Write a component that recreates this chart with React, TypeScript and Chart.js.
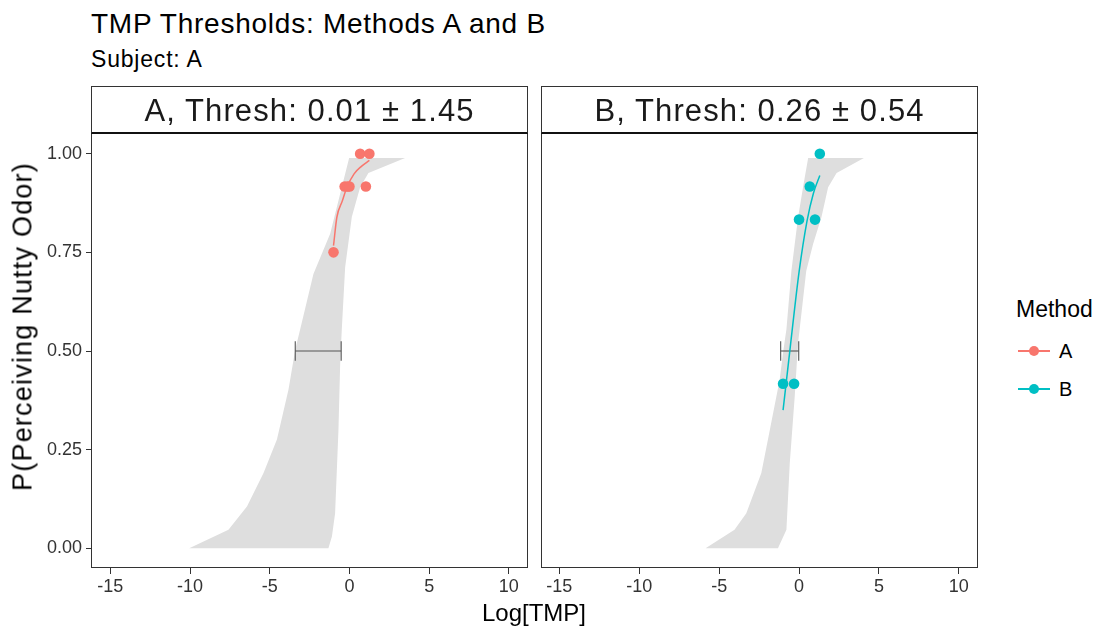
import React, { useEffect, useRef } from "react";
import { Chart, registerables } from "chart.js";

Chart.register(...registerables);

const FONT = "'Liberation Sans', Arial, Helvetica, sans-serif";

// ---- axes ----
const xTicks = [-15, -10, -5, 0, 5, 10];
const yTicks = [0, 0.25, 0.5, 0.75, 1];
const xMin = -16.15;
const xMax = 11.2;
const yMin = -0.05;
const yMax = 1.05;

const colorA = "#F8766D";
const colorB = "#00BFC4";

// ---- Method A ----
const aPointX = [0.67, 1.25, -0.3, -0.12, 0.0, 1.03, -1.0];
const aPointY = [1.0, 1.0, 0.917, 0.917, 0.917, 0.917, 0.75];
const aFitX = [-1.0, -0.79, -0.45, -0.16, 0.29, 0.75, 1.25];
const aFitY = [0.767, 0.839, 0.88, 0.915, 0.949, 0.968, 0.983];
const aErr = [-3.4, -0.52];
const aRibbonX = [-10.05, -7.59, -6.43, -5.39, -4.55, -3.82, -3.4, -3.09, -2.26, -1.21, -0.48, -0.02, 3.49, 1.19, 0.67, 0.15, -0.27, -0.48, -0.58, -0.69, -0.9, -1.1, -1.32];
const aRibbonY = [0.0, 0.047, 0.106, 0.191, 0.276, 0.403, 0.504, 0.555, 0.695, 0.797, 0.915, 0.989, 0.989, 0.951, 0.915, 0.84, 0.712, 0.555, 0.47, 0.3, 0.089, 0.03, 0.0];

// ---- Method B ----
const bPointX = [1.3, 0.67, 0.0, 1.0, -1.0, -0.31];
const bPointY = [1.0, 0.917, 0.833, 0.833, 0.417, 0.417];
const bFitX = [-1.0, -0.55, 0.0, 0.5, 0.9, 1.3];
const bFitY = [0.35, 0.51, 0.7, 0.83, 0.9, 0.945];
const bErr = [-1.15, -0.02];
const bRibbonX = [-5.85, -4.04, -3.3, -2.36, -1.9, -1.21, -1.0, -0.79, -0.48, -0.27, -0.06, 0.25, 0.57, 4.06, 2.35, 1.82, 1.4, 0.88, 0.45, -0.06, -0.27, -0.58, -0.79, -1.32];
const bRibbonY = [0.0, 0.047, 0.089, 0.191, 0.285, 0.428, 0.496, 0.555, 0.703, 0.771, 0.839, 0.915, 0.989, 0.989, 0.951, 0.915, 0.839, 0.771, 0.703, 0.52, 0.385, 0.216, 0.047, 0.0];

const errY = 0.5;
const capHalf = 0.025;

const zip = (xs: number[], ys: number[]) => xs.map((x, i) => ({ x, y: ys[i] }));

function buildDatasets(px: number[], py: number[], fx: number[], fy: number[], err: number[], rx: number[], ry: number[], color: string) {
  const errColor = "#555555";
  return [
    {
      data: zip(px, py),
      showLine: false,
      pointRadius: 5.3,
      pointBorderWidth: 0,
      pointBackgroundColor: color,
      borderColor: color,
    },
    {
      data: zip(fx, fy),
      showLine: true,
      borderColor: color,
      borderWidth: 1.5,
      pointRadius: 0,
      cubicInterpolationMode: "monotone" as const,
      fill: false,
    },
    {
      data: [{ x: err[0], y: errY }, { x: err[1], y: errY }],
      showLine: true,
      borderColor: errColor,
      borderWidth: 1.1,
      pointRadius: 0,
      fill: false,
    },
    {
      data: [{ x: err[0], y: errY - capHalf }, { x: err[0], y: errY + capHalf }],
      showLine: true,
      borderColor: errColor,
      borderWidth: 1.1,
      pointRadius: 0,
      fill: false,
    },
    {
      data: [{ x: err[1], y: errY - capHalf }, { x: err[1], y: errY + capHalf }],
      showLine: true,
      borderColor: errColor,
      borderWidth: 1.1,
      pointRadius: 0,
      fill: false,
    },
    {
      data: zip(rx, ry),
      showLine: true,
      borderWidth: 0,
      borderColor: "rgba(0,0,0,0)",
      backgroundColor: "#DEDEDE",
      pointRadius: 0,
      fill: "shape",
      tension: 0,
    },
  ];
}

function Panel(props: {
  left: number; width: number; showY: boolean; padLeft: number; padRight: number;
  px: number[]; py: number[]; fx: number[]; fy: number[]; err: number[]; rx: number[]; ry: number[]; color: string;
}) {
  const ref = useRef<HTMLCanvasElement | null>(null);
  useEffect(() => {
    if (!ref.current) return;
    Chart.defaults.font.family = FONT;
    const chart = new Chart(ref.current, {
      type: "line",
      data: {
        datasets: buildDatasets(props.px, props.py, props.fx, props.fy, props.err, props.rx, props.ry, props.color) as any,
      },
      options: {
        responsive: false,
        animation: false,
        events: [],
        layout: { autoPadding: false, padding: { left: props.padLeft, right: props.padRight, top: 0, bottom: 0 } },
        plugins: { legend: { display: false }, tooltip: { enabled: false }, title: { display: false } },
        scales: {
          x: {
            type: "linear",
            min: xMin,
            max: xMax,
            afterBuildTicks: (s: any) => { s.ticks = xTicks.map((v) => ({ value: v })); },
            afterFit: (s: any) => { s.height = 61; s.paddingLeft = 0; s.paddingRight = 0; },
            ticks: {
              color: "#333333",
              font: { size: 18, family: FONT },
              padding: 2,
              maxRotation: 0,
              autoSkip: false,
              callback: (v: any) => String(v),
            },
            grid: { display: true, drawOnChartArea: false, drawTicks: true, tickLength: 6, tickColor: "#333333", tickWidth: 1 },
            border: { display: false },
          },
          y: {
            type: "linear",
            display: props.showY,
            min: yMin,
            max: yMax,
            afterBuildTicks: (s: any) => { s.ticks = yTicks.map((v) => ({ value: v })); },
            afterFit: (s: any) => { s.width = props.showY ? 92 : 0; s.paddingTop = 0; s.paddingBottom = 0; },
            ticks: {
              color: "#333333",
              font: { size: 18, family: FONT },
              padding: 4,
              callback: (v: any) => Number(v).toFixed(2),
            },
            grid: { display: true, drawOnChartArea: false, drawTicks: true, tickLength: 6, tickColor: "#333333", tickWidth: 1 },
            border: { display: false },
          },
        },
      },
    });
    return () => chart.destroy();
  }, []);
  return (
    <canvas
      ref={ref}
      width={props.width}
      height={495}
      style={{ position: "absolute", left: props.left, top: 134, width: props.width, height: 495 }}
    />
  );
}

const boxStyle = (left: number, top: number, width: number, height: number, extra: any = {}) => ({
  position: "absolute" as const,
  left,
  top,
  width,
  height,
  boxSizing: "border-box" as const,
  border: "1px solid #333333",
  ...extra,
});

function Strip(props: { left: number; label: string }) {
  return (
    <div style={boxStyle(props.left, 86, 437, 48, { borderBottom: "2px solid #111111", background: "#fff" })}>
      <div style={{ position: "absolute", left: 0, right: 0, top: 8, textAlign: "center", fontSize: 31, lineHeight: "31px", letterSpacing: "1.1px", color: "#1a1a1a", whiteSpace: "nowrap" }}>
        {props.label}
      </div>
    </div>
  );
}

export default function App() {
  return (
    <div style={{ position: "absolute", left: 0, top: 0, width: 1099, height: 629, background: "#ffffff", overflow: "hidden", fontFamily: FONT }}>
      <div style={{ position: "absolute", left: 91, top: 10, fontSize: 28, lineHeight: "28px", letterSpacing: "0.75px", color: "#000", whiteSpace: "nowrap" }}>
        TMP Thresholds: Methods A and B
      </div>
      <div style={{ position: "absolute", left: 91, top: 48, fontSize: 23, lineHeight: "23px", letterSpacing: "0.8px", color: "#000", whiteSpace: "nowrap" }}>
        Subject: A
      </div>

      <Panel left={0} width={540} showY={true} padLeft={0} padRight={12}
        px={aPointX} py={aPointY} fx={aFitX} fy={aFitY} err={aErr} rx={aRibbonX} ry={aRibbonY} color={colorA} />
      <Panel left={530} width={460} showY={false} padLeft={11} padRight={12}
        px={bPointX} py={bPointY} fx={bFitX} fy={bFitY} err={bErr} rx={bRibbonX} ry={bRibbonY} color={colorB} />

      <div style={boxStyle(91, 133, 437, 435, { pointerEvents: "none" })} />
      <div style={boxStyle(541, 133, 437, 435, { pointerEvents: "none" })} />
      <Strip left={91} label="A, Thresh: 0.01 ± 1.45" />
      <Strip left={541} label="B, Thresh: 0.26 ± 0.54" />

      <div style={{ position: "absolute", left: 23 - 200, top: 326 - 13.5, width: 400, height: 27, textAlign: "center", fontSize: 27, lineHeight: "27px", letterSpacing: "1.2px", color: "#000", transform: "rotate(-90deg)", transformOrigin: "50% 50%", whiteSpace: "nowrap" }}>
        P(Perceiving Nutty Odor)
      </div>
      <div style={{ position: "absolute", left: 334, width: 400, top: 601, textAlign: "center", fontSize: 24, lineHeight: "24px", color: "#000", whiteSpace: "nowrap" }}>
        Log[TMP]
      </div>

      <div style={{ position: "absolute", left: 1016, top: 298, fontSize: 23, lineHeight: "23px", color: "#000", whiteSpace: "nowrap" }}>
        Method
      </div>
      {[{ label: "A", color: colorA, y: 351 }, { label: "B", color: colorB, y: 389 }].map((e) => (
        <React.Fragment key={e.label}>
          <div style={{ position: "absolute", left: 1018, top: e.y - 0.75, width: 32, height: 1.5, background: e.color }} />
          <div style={{ position: "absolute", left: 1034 - 5.3, top: e.y - 5.3, width: 10.6, height: 10.6, borderRadius: "50%", background: e.color }} />
          <div style={{ position: "absolute", left: 1059, top: e.y - 10, fontSize: 20, lineHeight: "20px", color: "#000" }}>{e.label}</div>
        </React.Fragment>
      ))}
    </div>
  );
}
